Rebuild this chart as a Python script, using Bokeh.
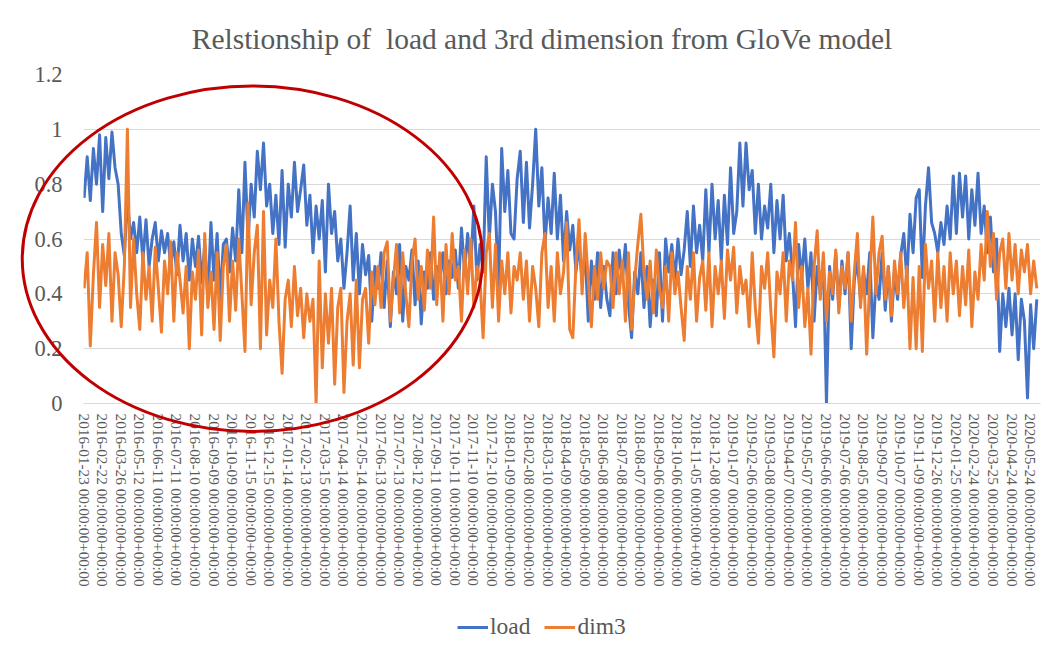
import numpy as np
from bokeh.plotting import figure
from bokeh.models import (FixedTicker, NumeralTickFormatter, Legend, LegendItem, Range1d, Label)
from bokeh.embed import file_html
from bokeh.resources import INLINE

# ---------------- data ----------------
title_text = "Relstionship of\u00a0 load and 3rd dimension from GloVe model"
tick_dates = ["2016-01-23", "2016-02-22", "2016-03-26", "2016-05-12", "2016-06-11", "2016-07-11",
              "2016-08-10", "2016-09-09", "2016-10-09", "2016-11-15", "2016-12-15",
              "2017-01-14", "2017-02-13", "2017-03-15", "2017-04-14", "2017-05-14", "2017-06-13",
              "2017-07-13", "2017-08-12", "2017-09-11", "2017-10-11", "2017-11-10", "2017-12-10",
              "2018-01-09", "2018-02-08", "2018-03-10", "2018-04-09", "2018-05-09", "2018-06-08",
              "2018-07-08", "2018-08-07", "2018-09-06", "2018-10-06", "2018-11-05", "2018-12-08",
              "2019-01-07", "2019-02-06", "2019-03-08", "2019-04-07", "2019-05-07", "2019-06-06",
              "2019-07-06", "2019-08-05", "2019-09-07", "2019-10-07", "2019-11-09", "2019-12-26",
              "2020-01-25", "2020-02-24", "2020-03-25", "2020-04-24", "2020-05-24"]
tick_suffix = " 00:00:00+00:00"
records_per_tick = 30      # one tick label every 30 records
records_per_sample = 5     # values below are read every 5 records
n_records = 1546

load_seg1 = [0.75, 0.90, 0.74, 0.93, 0.80, 0.98, 0.70, 0.97, 0.82, 0.99, 0.86, 0.80, 0.62, 0.54,
             0.75, 0.60, 0.66, 0.55, 0.68, 0.52, 0.67, 0.50, 0.60, 0.66, 0.52, 0.63, 0.55, 0.62,
             0.50, 0.59, 0.47, 0.65, 0.52, 0.62, 0.45, 0.60, 0.50, 0.61, 0.44, 0.58, 0.38]
load_seg2 = [0.66, 0.45, 0.62, 0.38, 0.58, 0.60, 0.48, 0.64, 0.52, 0.78, 0.55, 0.88, 0.60, 0.80,
             0.68, 0.92, 0.78, 0.95, 0.72, 0.80, 0.62, 0.76, 0.58, 0.85, 0.57, 0.80, 0.68, 0.88,
             0.70, 0.78, 0.87, 0.65, 0.76, 0.55, 0.72, 0.60, 0.74, 0.48, 0.80, 0.62, 0.70, 0.52,
             0.60, 0.42]
load_seg3 = [0.55, 0.72, 0.45, 0.62, 0.40, 0.58, 0.47, 0.54, 0.30, 0.50, 0.42, 0.55, 0.35, 0.52,
             0.28, 0.48, 0.40, 0.58, 0.30, 0.50, 0.45, 0.56, 0.36, 0.52, 0.29, 0.48, 0.42, 0.55,
             0.38, 0.50, 0.45, 0.55, 0.40, 0.52, 0.46, 0.56, 0.42, 0.64, 0.48, 0.62, 0.50, 0.72,
             0.45]
load_seg4 = [0.58, 0.48, 0.90, 0.60, 0.80, 0.70, 0.42, 0.93, 0.70, 0.85, 0.62, 0.60, 0.82, 0.92,
             0.66, 0.88, 0.64, 0.80, 1.00, 0.72, 0.86, 0.58, 0.75, 0.62, 0.84, 0.60, 0.76, 0.52,
             0.70, 0.56, 0.65, 0.48, 0.58, 0.45, 0.55, 0.30, 0.52, 0.38, 0.55, 0.35, 0.50, 0.38]
load_seg5 = [0.32, 0.55, 0.40, 0.56, 0.45, 0.58, 0.36, 0.24, 0.48, 0.40, 0.55, 0.35, 0.50, 0.28,
             0.45, 0.32, 0.55, 0.30, 0.60, 0.48, 0.58, 0.45, 0.60, 0.47, 0.56, 0.70, 0.50, 0.72,
             0.55, 0.65, 0.52, 0.78, 0.55, 0.80, 0.60, 0.74, 0.52, 0.76, 0.58, 0.86, 0.62, 0.70,
             0.95, 0.72]
load_seg6 = [0.95, 0.78, 0.85, 0.62, 0.80, 0.60, 0.72, 0.64, 0.80, 0.55, 0.74, 0.60, 0.76, 0.52,
             0.62, 0.48, 0.28, 0.58, 0.46, 0.60, 0.42, 0.55, 0.30, 0.50, 0.40, 0.52, 0.00, 0.50,
             0.38, 0.55, 0.35, 0.52, 0.40, 0.55, 0.20, 0.45, 0.52, 0.38, 0.48, 0.40, 0.55, 0.24,
             0.45, 0.38]
load_seg7 = [0.55, 0.34, 0.50, 0.30, 0.48, 0.38, 0.54, 0.62, 0.45, 0.69, 0.55, 0.75, 0.78, 0.46,
             0.72, 0.86, 0.66, 0.62, 0.55, 0.66, 0.58, 0.72, 0.60, 0.83, 0.62, 0.84, 0.68, 0.83,
             0.60, 0.78, 0.65, 0.84, 0.62, 0.72, 0.55, 0.68, 0.48, 0.60, 0.19, 0.40, 0.28, 0.42,
             0.25, 0.40, 0.16, 0.38, 0.30, 0.02, 0.36, 0.20, 0.38]

dim3_seg1 = [0.42, 0.55, 0.21, 0.47, 0.66, 0.35, 0.58, 0.43, 0.62, 0.30, 0.55, 0.47, 0.28, 0.50,
             1.00, 0.35, 0.60, 0.40, 0.27, 0.55, 0.38, 0.50, 0.30, 0.57, 0.42, 0.26, 0.52, 0.40,
             0.59, 0.30, 0.55, 0.45, 0.33, 0.50, 0.20, 0.48, 0.38, 0.56, 0.25, 0.62, 0.35]
dim3_seg2 = [0.48, 0.27, 0.55, 0.23, 0.50, 0.58, 0.30, 0.52, 0.34, 0.60, 0.40, 0.19, 0.73, 0.36,
             0.55, 0.65, 0.20, 0.70, 0.25, 0.45, 0.35, 0.60, 0.30, 0.11, 0.38, 0.45, 0.28, 0.50,
             0.32, 0.42, 0.24, 0.40, 0.30, 0.38, 0.00, 0.52, 0.13, 0.40, 0.22, 0.42, 0.07, 0.35,
             0.42, 0.04]
dim3_seg3 = [0.30, 0.40, 0.14, 0.45, 0.13, 0.38, 0.42, 0.22, 0.48, 0.36, 0.50, 0.35, 0.55, 0.59,
             0.30, 0.45, 0.58, 0.33, 0.55, 0.40, 0.28, 0.52, 0.60, 0.38, 0.50, 0.34, 0.56, 0.42,
             0.68, 0.36, 0.55, 0.30, 0.58, 0.40, 0.62, 0.45, 0.50, 0.30, 0.56, 0.40, 0.60, 0.35,
             0.50]
dim3_seg4 = [0.45, 0.24, 0.55, 0.62, 0.35, 0.58, 0.30, 0.52, 0.40, 0.55, 0.33, 0.50, 0.45, 0.55,
             0.38, 0.52, 0.30, 0.50, 0.42, 0.28, 0.55, 0.62, 0.35, 0.50, 0.30, 0.55, 0.40, 0.48,
             0.66, 0.27, 0.24, 0.50, 0.67, 0.40, 0.62, 0.45, 0.28, 0.50, 0.38, 0.55, 0.42, 0.52]
dim3_seg5 = [0.50, 0.35, 0.55, 0.40, 0.52, 0.30, 0.55, 0.27, 0.45, 0.58, 0.69, 0.48, 0.38, 0.52,
             0.33, 0.56, 0.42, 0.35, 0.50, 0.30, 0.55, 0.40, 0.48, 0.35, 0.23, 0.50, 0.38, 0.55,
             0.30, 0.46, 0.52, 0.34, 0.55, 0.28, 0.50, 0.40, 0.52, 0.31, 0.56, 0.45, 0.57, 0.33,
             0.50, 0.40]
dim3_seg6 = [0.45, 0.28, 0.55, 0.35, 0.22, 0.50, 0.42, 0.55, 0.34, 0.17, 0.48, 0.40, 0.55, 0.30,
             0.52, 0.45, 0.66, 0.35, 0.50, 0.28, 0.42, 0.18, 0.50, 0.63, 0.38, 0.55, 0.30, 0.48,
             0.40, 0.56, 0.33, 0.50, 0.42, 0.55, 0.30, 0.48, 0.62, 0.35, 0.50, 0.18, 0.45, 0.68,
             0.40, 0.55]
dim3_seg7 = [0.61, 0.38, 0.50, 0.32, 0.52, 0.40, 0.55, 0.35, 0.50, 0.20, 0.46, 0.20, 0.50, 0.19,
             0.58, 0.42, 0.52, 0.30, 0.55, 0.35, 0.50, 0.30, 0.55, 0.40, 0.52, 0.32, 0.50, 0.36,
             0.56, 0.28, 0.48, 0.38, 0.58, 0.45, 0.70, 0.50, 0.62, 0.38, 0.55, 0.60, 0.42, 0.62,
             0.45, 0.58, 0.40, 0.56, 0.48, 0.58, 0.40, 0.52, 0.42]

load = load_seg1 + load_seg2 + load_seg3 + load_seg4 + load_seg5 + load_seg6 + load_seg7
dim3 = dim3_seg1 + dim3_seg2 + dim3_seg3 + dim3_seg4 + dim3_seg5 + dim3_seg6 + dim3_seg7
record = np.arange(len(load)) * records_per_sample

# highlighted region (ellipse): centre in record / value units, and its size
ell_cx, ell_cy, ell_w, ell_h = 272, 0.528, 744, 1.26

# ---------------- layout ----------------
GREY = "#595959"
FONT = "Liberation Serif"
BLUE, ORANGE = "#4472C4", "#ED7D31"
W, H = 1053, 648
B_LEFT, B_RIGHT, B_TOP, B_BOTTOM = 83, 13, 74, 245
X0, X1 = -1, n_records
Y0, Y1 = 0, 1.2

p = figure(width=W, height=H, output_backend="svg", toolbar_location=None,
           x_range=Range1d(X0, X1), y_range=Range1d(Y0, Y1),
           min_border_left=B_LEFT, min_border_right=B_RIGHT,
           min_border_top=B_TOP, min_border_bottom=B_BOTTOM)
p.outline_line_color = None
p.background_fill_color = "white"
p.border_fill_color = "white"

p.line(record, load, line_color=BLUE, line_width=3, line_join="round")
p.line(record, dim3, line_color=ORANGE, line_width=3, line_join="round")

# x axis
xa = p.xaxis[0]
xa.ticker = FixedTicker(ticks=[i * records_per_tick for i in range(len(tick_dates))])
xa.major_label_overrides = {i * records_per_tick: d + tick_suffix for i, d in enumerate(tick_dates)}
xa.major_label_orientation = "vertical"
xa.major_label_text_font = FONT
xa.major_label_text_font_size = "15.3px"
xa.major_label_text_color = GREY
xa.axis_line_color = "#D9D9D9"
xa.major_tick_line_color = None
xa.minor_tick_line_color = None
xa.major_label_standoff = 4

# y axis
ya = p.yaxis[0]
ya.ticker = FixedTicker(ticks=[0, 0.2, 0.4, 0.6, 0.8, 1.0, 1.2])
ya.formatter = NumeralTickFormatter(format="0.[0]")
ya.major_label_text_font = FONT
ya.major_label_text_font_size = "22.5px"
ya.major_label_text_color = GREY
ya.axis_line_color = None
ya.major_tick_line_color = None
ya.minor_tick_line_color = None
ya.major_label_standoff = 15

p.xgrid.visible = False
p.ygrid.grid_line_color = "#D9D9D9"
p.ygrid.grid_line_width = 1

# ---------- transparent overlay (same scales, frame = whole canvas): title, ellipse, legend ----------
fw = W - B_LEFT - B_RIGHT
fh = H - B_TOP - B_BOTTOM
xpp = (X1 - X0) / fw
ypp = (Y1 - Y0) / fh
ov = figure(width=W, height=H, output_backend="svg", toolbar_location=None,
            x_range=Range1d(X0 - B_LEFT * xpp, X1 + B_RIGHT * xpp),
            y_range=Range1d(Y0 - B_BOTTOM * ypp, Y1 + B_TOP * ypp),
            x_axis_location=None, y_axis_location=None, min_border=0,
            styles={"position": "absolute", "left": "0px", "top": "0px"})
ov.outline_line_color = None
ov.background_fill_alpha = 0
ov.border_fill_alpha = 0
for g in ov.grid:
    g.visible = False

ov.add_layout(Label(x=541.5, y=H - 38, x_units="screen", y_units="screen", text=title_text,
                    text_align="center", text_baseline="middle", text_font=FONT,
                    text_font_size="29.5px", text_color=GREY))

ov.ellipse(x=[ell_cx], y=[ell_cy], width=[ell_w], height=[ell_h],
           fill_alpha=0, line_color="#C00000", line_width=3)

key_load = ov.line(x=np.array([np.nan]), y=np.array([np.nan]), line_color=BLUE, line_width=3)
key_dim3 = ov.line(x=np.array([np.nan]), y=np.array([np.nan]), line_color=ORANGE, line_width=3)
legend = Legend(items=[LegendItem(label="load", renderers=[key_load]),
                       LegendItem(label="dim3", renderers=[key_dim3])],
                orientation="horizontal", location=(457, 8),
                label_text_font=FONT, label_text_font_size="23.5px", label_text_color=GREY,
                glyph_width=31, label_standoff=2, spacing=14, padding=0, margin=0,
                border_line_color=None, background_fill_alpha=0)
ov.add_layout(legend)

open("out.html", "w").write(file_html([p, ov], INLINE))
